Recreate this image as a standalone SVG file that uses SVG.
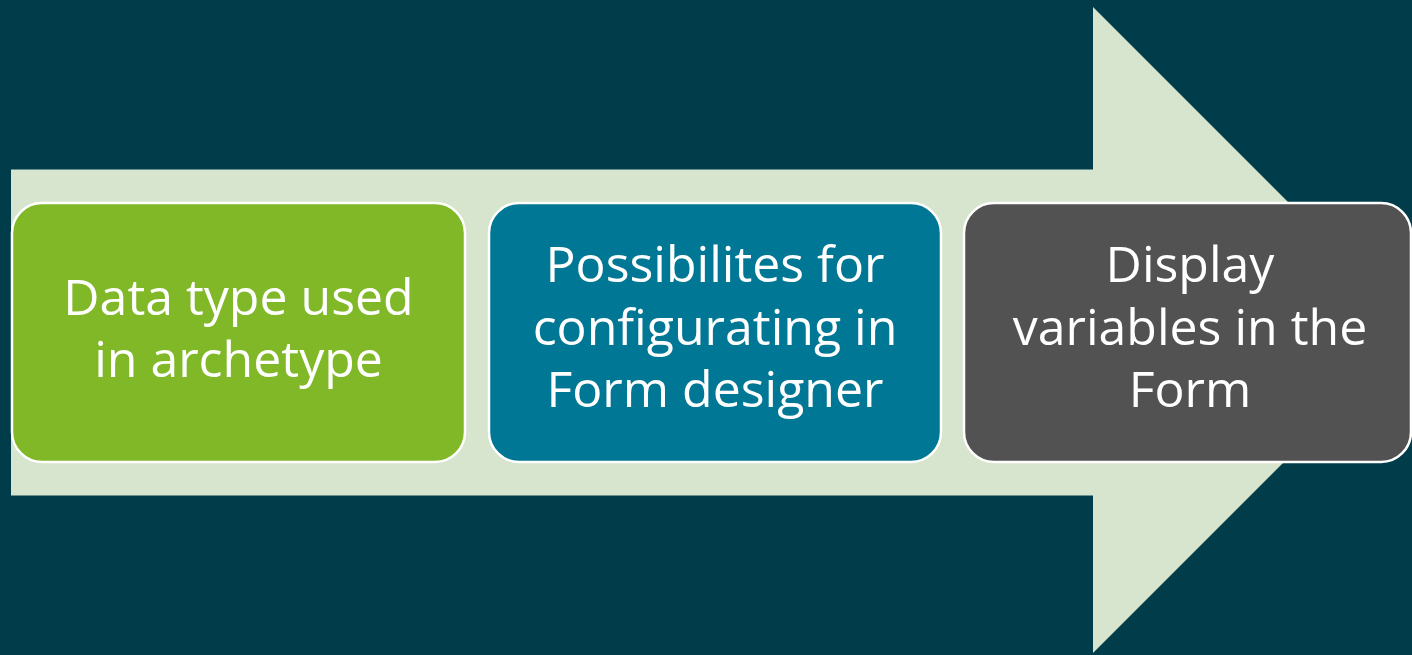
<svg xmlns="http://www.w3.org/2000/svg" width="1412" height="655" viewBox="0 0 1412 655">
<style>
.box{stroke:#ffffff;stroke-width:2.5}
.lbl{font-family:"Open Sans","Noto Sans","Liberation Sans",sans-serif;font-size:50px;fill:#ffffff;text-anchor:middle}
</style>
<rect x="0" y="0" width="1412" height="655" fill="#013C4A"/>
<g id="connectors">
<polygon id="arrow" points="11,169.5 1093,169.5 1093,7 1416,330 1093,653 1093,495.5 11,495.5" fill="#D8E5CE"/>
</g>
<g id="node1">
<rect class="box" x="12" y="203" width="453" height="259" rx="30" fill="#80B828"/>
<text class="lbl" x="238.5"><tspan x="238.5" y="314.5">Data type used</tspan><tspan x="238.5" y="376.5">in archetype</tspan></text>
</g>
<g id="node2">
<rect class="box" x="489" y="203" width="452" height="259" rx="30" fill="#007794"/>
<text class="lbl" x="715"><tspan x="715" y="282">Possibilites for</tspan><tspan x="715" y="344.5">configurating in</tspan><tspan x="715" y="407">Form designer</tspan></text>
</g>
<g id="node3">
<rect class="box" x="964" y="203" width="447" height="259" rx="30" fill="#525252"/>
<text class="lbl" x="1190"><tspan x="1190" y="282">Display</tspan><tspan x="1190" y="344.5">variables in the</tspan><tspan x="1190" y="407">Form</tspan></text>
</g>
</svg>
